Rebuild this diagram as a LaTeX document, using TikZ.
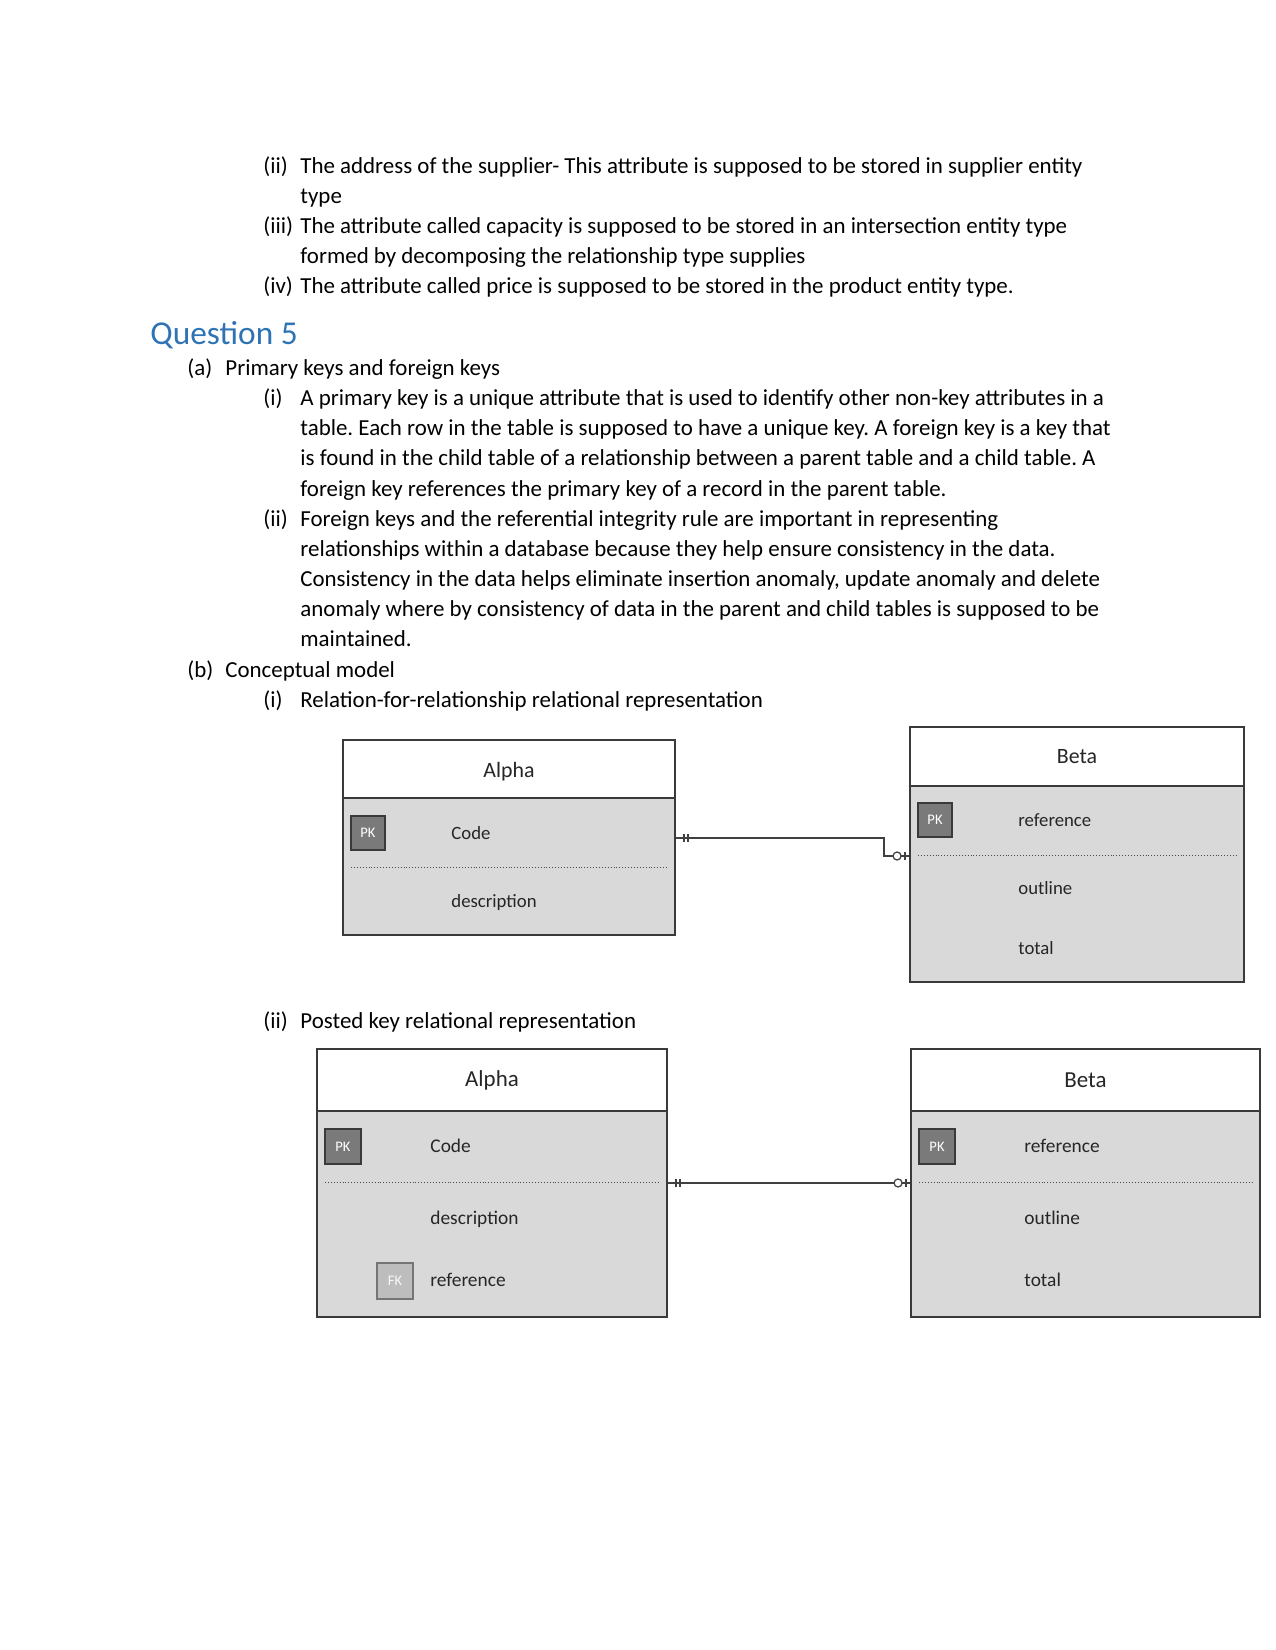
\documentclass[tikz,border=0pt]{standalone}
\usepackage{fontspec}
\setmainfont{Carlito}
\usetikzlibrary{fit,calc}
\frenchspacing
\definecolor{qblue}{HTML}{2E74B5}
\definecolor{bodyfill}{HTML}{D9D9D9}
\definecolor{edgecol}{HTML}{3A3A3A}
\definecolor{pkfill}{HTML}{7A7A7A}
\definecolor{fkfill}{HTML}{BDBDBD}
\definecolor{linecol}{HTML}{404040}
\begin{document}
\begin{tikzpicture}[x=0.48pt,y=-0.48pt,
  txt/.style={anchor=mid west, inner sep=0pt, yshift=-1.7pt, font=\fontsize{11}{13}\selectfont},
  head/.style={anchor=mid west, inner sep=0pt, yshift=-3.4pt, text=qblue, font=\fontsize{16}{19}\selectfont},
  hbox/.style={draw=edgecol, fill=white, line width=0.9pt, inner sep=0pt},
  bbox/.style={draw=edgecol, fill=bodyfill, line width=0.9pt, inner sep=0pt},
  titleA/.style={inner sep=0pt, text=black!85, font=\fontsize{10.5}{12}\selectfont},
  titleB/.style={inner sep=0pt, text=black!85, font=\fontsize{11}{13}\selectfont},
  attrA/.style={anchor=mid west, inner sep=0pt, yshift=-0.9pt, text=black!85, font=\fontsize{9}{11}\selectfont},
  attrB/.style={anchor=mid west, inner sep=0pt, yshift=-0.5pt, text=black!85, font=\fontsize{9.3}{11}\selectfont},
  keybox/.style={draw=edgecol, fill=pkfill, line width=0.7pt, text=white, inner sep=0pt, font=\fontsize{7}{8}\selectfont},
  fkbox/.style={draw=edgecol!70, fill=fkfill, line width=0.7pt, text=white!90!fkfill, inner sep=0pt, font=\fontsize{7}{8}\selectfont},
  sep/.style={draw=black!70, line width=0.4pt, densely dotted},
  conn/.style={draw=linecol, line width=0.7pt},
  tickline/.style={draw=linecol, line width=0.6pt}
]
\useasboundingbox (0,0) rectangle (1275,1650);

% ---------- text ----------
\node[txt] (l1a) at (263,165) {(ii)};
\node[txt] (l1b) at (300,165) {The address of the supplier- This attribute is supposed to be stored in supplier entity};
\node[txt] (l2b) at (300,195) {type};
\node[txt] (l3a) at (263,225) {(iii)};
\node[txt] (l3b) at (300,225) {The attribute called capacity is supposed to be stored in an intersection entity type};
\node[txt] (l4b) at (300,255) {formed by decomposing the relationship type supplies};
\node[txt] (l5a) at (263,285) {(iv)};
\node[txt] (l5b) at (300,285) {The attribute called price is supposed to be stored in the product entity type.};

\node[head] (q5) at (150,332) {Question 5};

\node[txt] (a0) at (187,367) {(a)};
\node[txt] (a1) at (225,367) {Primary keys and foreign keys};
\node[txt] (ai0) at (263,397) {(i)};
\node[txt] (ai1) at (300,397) {A primary key is a unique attribute that is used to identify other non-key attributes in a};
\node[txt] (ai2) at (300,427) {table. Each row in the table is supposed to have a unique key. A foreign key is a key that};
\node[txt] (ai3) at (300,457) {is found in the child table of a relationship between a parent table and a child table. A};
\node[txt] (ai4) at (300,488) {foreign key references the primary key of a record in the parent table.};
\node[txt] (aii0) at (263,518) {(ii)};
\node[txt] (aii1) at (300,518) {Foreign keys and the referential integrity rule are important in representing};
\node[txt] (aii2) at (300,548) {relationships within a database because they help ensure consistency in the data.};
\node[txt] (aii3) at (300,578) {Consistency in the data helps eliminate insertion anomaly, update anomaly and delete};
\node[txt] (aii4) at (300,608) {anomaly where by consistency of data in the parent and child tables is supposed to be};
\node[txt] (aii5) at (300,638) {maintained.};
\node[txt] (b0) at (187,669) {(b)};
\node[txt] (b1) at (225,669) {Conceptual model};
\node[txt] (bi0) at (263,699) {(i)};
\node[txt] (bi1) at (300,699) {Relation-for-relationship relational representation};
\node[txt] (bii0) at (263,1020) {(ii)};
\node[txt] (bii1) at (300,1020) {Posted key relational representation};

% ---------- diagram 1 ----------
\node[hbox, fit={(343,740) (675,798)}] (A1h) {};
\node[bbox, fit={(343,798) (675,935)}] (A1b) {};
\node[titleA, yshift=-1.4pt] (A1t) at (A1h.center) {Alpha};
\node[keybox, minimum width=16.3pt, minimum height=16.3pt] (A1pk) at (368,833) {PK};
\node[attrA] (A1c) at (451,833) {Code};
\draw[sep] (351,867) -- (668,867);
\node[attrA] (A1d) at (451,901) {description};

\node[hbox, fit={(910,727) (1244,786)}] (B1h) {};
\node[bbox, fit={(910,786) (1244,982)}] (B1b) {};
\node[titleA] (B1t) at (B1h.center) {Beta};
\node[keybox, minimum width=16.3pt, minimum height=16.3pt] (B1pk) at (935,820) {PK};
\node[attrA] (B1r) at (1018,820) {reference};
\draw[sep] (918,855) -- (1236,855);
\node[attrA] (B1o) at (1018,888) {outline};
\node[attrA] (B1tt) at (1018,948) {total};

\coordinate (c1s) at (A1b.east |- 0,838);
\coordinate (c1e) at (B1b.west |- 0,856);
\draw[conn] (c1s) -- (884,838) |- (c1e);
\draw[tickline] ($(c1s)+(8,-4)$) -- ($(c1s)+(8,4)$);
\draw[tickline] ($(c1s)+(12,-4)$) -- ($(c1s)+(12,4)$);
\draw[tickline] ($(c1e)+(-4,-4)$) -- ($(c1e)+(-4,4)$);
\draw[tickline, fill=white] ($(c1e)+(-12,0)$) circle[radius=4];

% ---------- diagram 2 ----------
\node[hbox, fit={(317,1049) (667,1111)}] (A2h) {};
\node[bbox, fit={(317,1111) (667,1317)}] (A2b) {};
\node[titleB] (A2t) at (A2h.center) {Alpha};
\node[keybox, minimum width=17.3pt, minimum height=16.8pt] (A2pk) at (343,1146.5) {PK};
\node[attrB] (A2c) at (430,1146.5) {Code};
\draw[sep] (325,1182) -- (658,1182);
\node[attrB] (A2d) at (430,1218) {description};
\node[fkbox, minimum width=17.3pt, minimum height=17.3pt] (A2fk) at (395,1281) {FK};
\node[attrB] (A2r) at (430,1280) {reference};

\node[hbox, fit={(911,1049) (1260,1111)}] (B2h) {};
\node[bbox, fit={(911,1111) (1260,1317)}] (B2b) {};
\node[titleB] (B2t) at (B2h.center) {Beta};
\node[keybox, minimum width=17.3pt, minimum height=16.8pt] (B2pk) at (937,1146.5) {PK};
\node[attrB] (B2r) at (1024,1146.5) {reference};
\draw[sep] (919,1182) -- (1252,1182);
\node[attrB] (B2o) at (1024,1218) {outline};
\node[attrB] (B2tt) at (1024,1280) {total};

\coordinate (c2s) at (A2b.east |- 0,1183);
\coordinate (c2e) at (B2b.west |- 0,1183);
\draw[conn] (c2s) -- (c2e);
\draw[tickline] ($(c2s)+(8,-4)$) -- ($(c2s)+(8,4)$);
\draw[tickline] ($(c2s)+(12,-4)$) -- ($(c2s)+(12,4)$);
\draw[tickline] ($(c2e)+(-4,-4)$) -- ($(c2e)+(-4,4)$);
\draw[tickline, fill=white] ($(c2e)+(-12,0)$) circle[radius=4];
\end{tikzpicture}
\end{document}
